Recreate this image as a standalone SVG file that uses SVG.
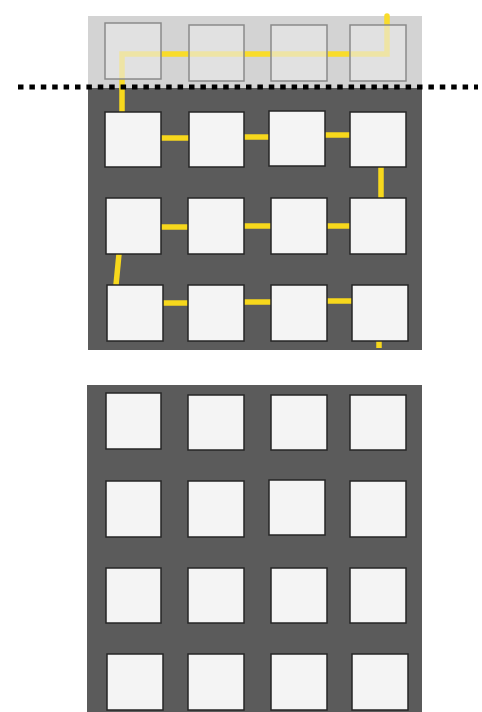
<svg xmlns="http://www.w3.org/2000/svg" width="482" height="712" viewBox="0 0 482 712">
<defs>
<style>
.panel-dark{fill:#5b5b5b}
.panel-light{fill:#d3d3d3}
.sq{fill:#f4f4f4;stroke:#262626;stroke-width:1.5}
.sq-faded{fill:#e8e8e8;fill-opacity:0.65;stroke:#8a8a8a;stroke-width:1.5}
.link{stroke:#f7d81c;stroke-width:5.5;fill:none}
.link-faded{stroke:#f9dc2a;stroke-width:5.5;fill:none;stroke-linecap:round;stroke-linejoin:miter}
</style>
</defs>
<rect width="482" height="712" fill="#ffffff"/>
<rect class="panel-light" x="88" y="16" width="334" height="72"/>
<rect class="panel-dark" x="88" y="88" width="334" height="262"/>
<rect class="panel-dark" x="87" y="385" width="335" height="327"/>
<g id="connectors">
<path class="link-faded" d="M387 16 V54 H122 V88"/>
<path class="link" d="M122 88 V112"/>
<path class="link" d="M161 138 H189 M244 137 H269 M325 135 H350"/>
<path class="link" d="M381 167 V198"/>
<path class="link" d="M350 226 H327 M271 226 H244 M188 227 H161"/>
<path class="link" d="M119 254 L116 285"/>
<path class="link" d="M163 303 H188 M244 302 H271 M327 301 H352"/>
<path class="link" d="M379 341 V348"/>
</g>
<g id="top-row">
<rect id="t1" class="sq-faded" x="105" y="23" width="56" height="56"/>
<rect id="t2" class="sq-faded" x="189" y="25" width="55" height="56"/>
<rect id="t3" class="sq-faded" x="271" y="25" width="56" height="56"/>
<rect id="t4" class="sq-faded" x="350" y="25" width="56" height="56"/>
</g>
<line x1="18" y1="87" x2="478" y2="87" stroke="#000" stroke-width="5" stroke-dasharray="5.5 5.9"/>
<g id="r1c1"><rect class="sq" x="105" y="112" width="56" height="55"/></g>
<g id="r1c2"><rect class="sq" x="189" y="112" width="55" height="55"/></g>
<g id="r1c3"><rect class="sq" x="269" y="111" width="56" height="55"/></g>
<g id="r1c4"><rect class="sq" x="350" y="112" width="56" height="55"/></g>
<g id="r2c1"><rect class="sq" x="106" y="198" width="55" height="56"/></g>
<g id="r2c2"><rect class="sq" x="188" y="198" width="56" height="56"/></g>
<g id="r2c3"><rect class="sq" x="271" y="198" width="56" height="56"/></g>
<g id="r2c4"><rect class="sq" x="350" y="198" width="56" height="56"/></g>
<g id="r3c1"><rect class="sq" x="107" y="285" width="56" height="56"/></g>
<g id="r3c2"><rect class="sq" x="188" y="285" width="56" height="56"/></g>
<g id="r3c3"><rect class="sq" x="271" y="285" width="56" height="56"/></g>
<g id="r3c4"><rect class="sq" x="352" y="285" width="56" height="56"/></g>
<g id="bAc1"><rect class="sq" x="106" y="393" width="55" height="56"/></g>
<g id="bAc2"><rect class="sq" x="188" y="395" width="56" height="55"/></g>
<g id="bAc3"><rect class="sq" x="271" y="395" width="56" height="55"/></g>
<g id="bAc4"><rect class="sq" x="350" y="395" width="56" height="55"/></g>
<g id="bBc1"><rect class="sq" x="106" y="481" width="55" height="56"/></g>
<g id="bBc2"><rect class="sq" x="188" y="481" width="56" height="56"/></g>
<g id="bBc3"><rect class="sq" x="269" y="480" width="56" height="55"/></g>
<g id="bBc4"><rect class="sq" x="350" y="481" width="56" height="56"/></g>
<g id="bCc1"><rect class="sq" x="106" y="568" width="55" height="55"/></g>
<g id="bCc2"><rect class="sq" x="188" y="568" width="56" height="55"/></g>
<g id="bCc3"><rect class="sq" x="271" y="568" width="56" height="55"/></g>
<g id="bCc4"><rect class="sq" x="350" y="568" width="56" height="55"/></g>
<g id="bDc1"><rect class="sq" x="107" y="654" width="56" height="56"/></g>
<g id="bDc2"><rect class="sq" x="188" y="654" width="56" height="56"/></g>
<g id="bDc3"><rect class="sq" x="271" y="654" width="56" height="56"/></g>
<g id="bDc4"><rect class="sq" x="352" y="654" width="56" height="56"/></g>
</svg>
